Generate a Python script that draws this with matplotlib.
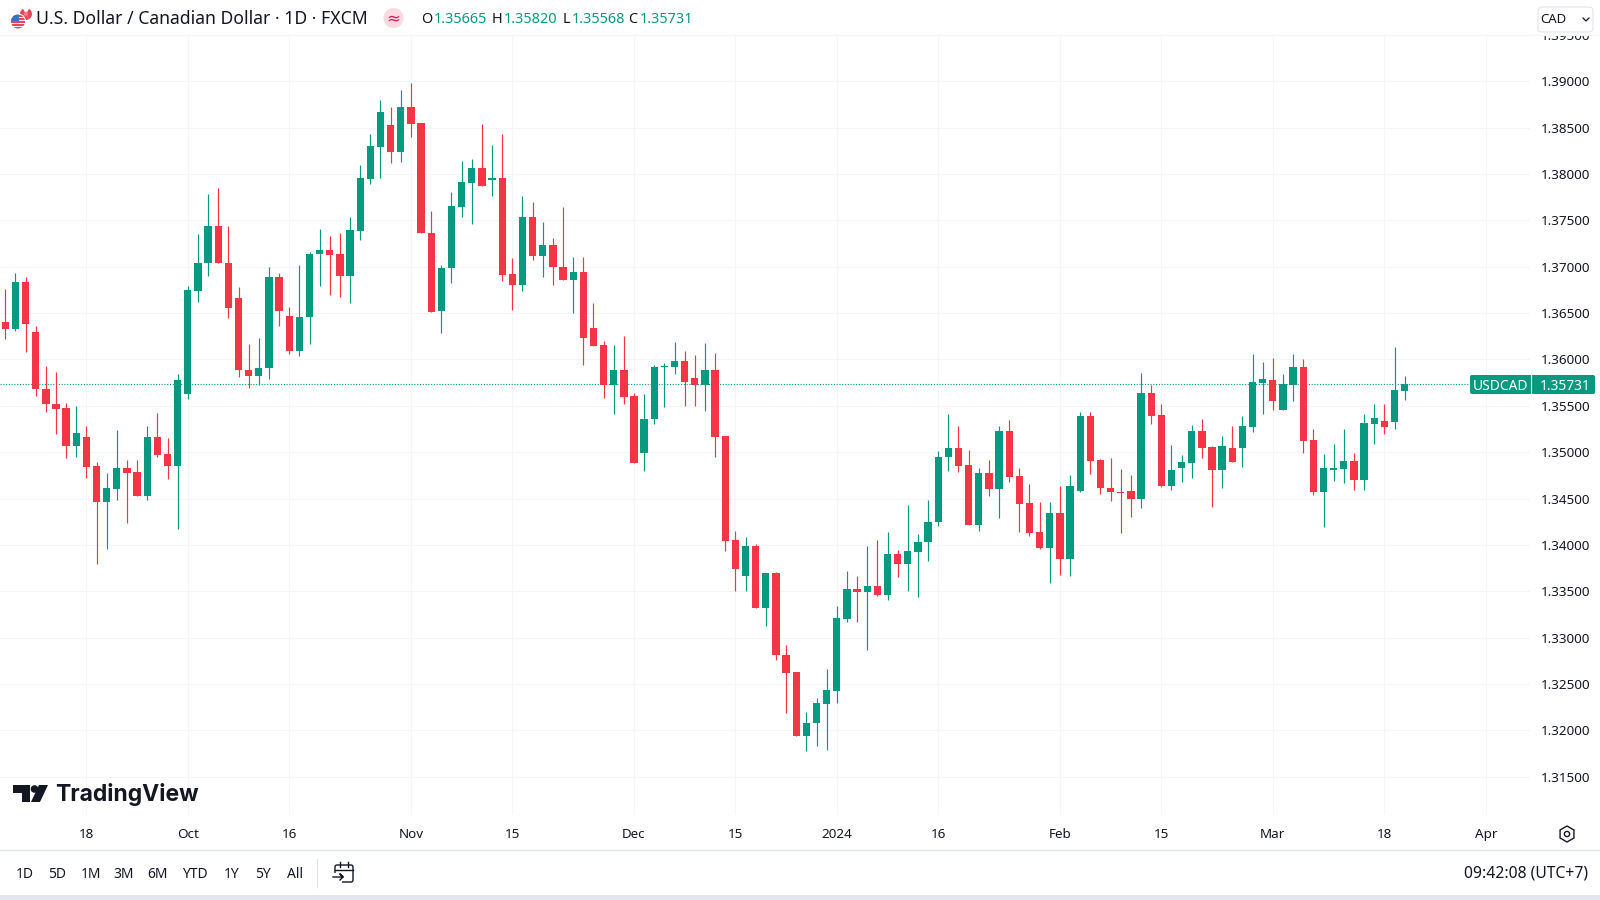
import matplotlib
matplotlib.use("Agg")
import matplotlib.pyplot as plt
from matplotlib.patches import Circle, FancyBboxPatch, Polygon, Rectangle, RegularPolygon, Wedge

directions = ("RGRRRRRGRRGGRRGRRGGG" "GRRRRGGRRGGGRRGGGGRG" "RRRGGGGRGRRGRGRRGRRR"
              "GRRGGGGRRGRRRGRGRRRG" "GGGGRGRGRGGGGGRRGRGR" "RRRGRGGRRRRRGRRGGGRR"
              "GRGGGRGGRRGGGRGGRGG")

highs = [1.36760,1.36935,1.36892,1.36366,1.35925,1.35860,1.35534,1.35495,1.35283,1.34896,
         1.34771,1.35237,1.34914,1.34914,1.35280,1.35427,1.35158,1.35846,1.36796,1.37351,
         1.37788,1.37846,1.37441,1.36785,1.36168,1.36229,1.37000,1.36932,1.36563,1.37021,
         1.37154,1.37405,1.37333,1.37362,1.37538,1.38097,1.38437,1.38803,1.38720,1.38910,
         1.38982,1.38552,1.37602,1.37018,1.37810,1.38140,1.38158,1.38545,1.38312,1.38427,
         1.37093,1.37763,1.37702,1.37487,1.37305,1.37649,1.37100,1.37108,1.36609,1.36204,
         1.36151,1.36258,1.35638,1.35624,1.35935,1.35961,1.36186,1.36090,1.36043,1.36179,
         1.36072,1.35172,1.34151,1.34090,1.34007,1.33695,1.33706,1.32925,1.32631,1.32197,
         1.32351,1.32656,1.33344,1.33720,1.33659,1.33989,1.34054,1.34143,1.33946,1.34430,
         1.34118,1.34484,1.35014,1.35416,1.35280,1.35022,1.34824,1.34914,1.35280,1.35344,
         1.34824,1.34656,1.34459,1.34459,1.34634,1.34753,1.35434,1.35434,1.34921,1.34932,
         1.34814,1.34753,1.35853,1.35720,1.35516,1.35075,1.34968,1.35297,1.35362,1.35068,
         1.35172,1.35280,1.35387,1.36061,1.35971,1.36018,1.35839,1.36054,1.36000,1.35254,
         1.34979,1.35093,1.35254,1.34986,1.35409,1.35516,1.35516,1.36133,1.35820]

body_tops = [1.36401,1.36839,1.36839,1.36301,1.35685,1.35523,1.35477,1.35211,1.35165,1.34849,
             1.34609,1.34824,1.34824,1.34781,1.35165,1.35165,1.34979,1.35774,1.36749,1.37039,
             1.37441,1.37441,1.37036,1.36659,1.35889,1.35907,1.36892,1.36892,1.36473,1.36462,
             1.37143,1.37183,1.37183,1.37136,1.37398,1.37953,1.38301,1.38667,1.38534,1.38720,
             1.38720,1.38552,1.37366,1.36989,1.37656,1.37914,1.38061,1.38061,1.37957,1.37961,
             1.36921,1.37538,1.37538,1.37237,1.37237,1.37000,1.36939,1.36939,1.36337,1.36151,
             1.35882,1.35882,1.35602,1.35362,1.35918,1.35928,1.35978,1.35978,1.35799,1.35882,
             1.35882,1.35172,1.34054,1.33989,1.33989,1.33695,1.33695,1.32817,1.32631,1.32082,
             1.32290,1.32430,1.33211,1.33527,1.33527,1.33552,1.33552,1.33903,1.33903,1.33935,
             1.34032,1.34251,1.34950,1.35050,1.35050,1.34860,1.34778,1.34778,1.35226,1.35226,
             1.34742,1.34448,1.34143,1.34341,1.34341,1.34634,1.35387,1.35387,1.34914,1.34617,
             1.34573,1.34581,1.35642,1.35642,1.35398,1.34806,1.34889,1.35226,1.35226,1.35057,
             1.35065,1.35050,1.35280,1.35756,1.35785,1.35781,1.35731,1.35918,1.35918,1.35129,
             1.34824,1.34824,1.34903,1.34903,1.35315,1.35369,1.35333,1.35667,1.35731]

body_bottoms = [1.36330,1.36330,1.36387,1.35681,1.35516,1.35470,1.35065,1.35065,1.34842,1.34466,
                1.34466,1.34602,1.34771,1.34527,1.34527,1.34968,1.34849,1.34849,1.35624,1.36742,
                1.37036,1.37036,1.36552,1.35882,1.35817,1.35817,1.35903,1.36527,1.36090,1.36090,
                1.36455,1.37140,1.37129,1.36896,1.36896,1.37387,1.37943,1.38294,1.38236,1.38236,
                1.38545,1.37362,1.36516,1.36520,1.36986,1.37649,1.37907,1.37871,1.37939,1.36914,
                1.36806,1.36806,1.37118,1.37118,1.36993,1.36860,1.36860,1.36233,1.36140,1.35720,
                1.35720,1.35595,1.34878,1.34986,1.35355,1.35914,1.35918,1.35756,1.35720,1.35720,
                1.35165,1.34047,1.33742,1.33660,1.33323,1.33323,1.32810,1.32620,1.31939,1.31939,
                1.32075,1.32280,1.32423,1.33204,1.33491,1.33491,1.33462,1.33462,1.33796,1.33796,
                1.33928,1.34029,1.34244,1.34943,1.34849,1.34215,1.34215,1.34602,1.34602,1.34735,
                1.34441,1.34133,1.33964,1.33964,1.33849,1.33849,1.34581,1.34907,1.34613,1.34566,
                1.34563,1.34495,1.34495,1.35391,1.34638,1.34638,1.34824,1.34878,1.35050,1.34806,
                1.34806,1.34896,1.35043,1.35272,1.35749,1.35552,1.35452,1.35720,1.35118,1.34573,
                1.34573,1.34806,1.34817,1.34699,1.34699,1.35308,1.35272,1.35326,1.35665]

lows = [1.36222,1.36305,1.36079,1.35606,1.35434,1.35201,1.34932,1.34943,1.34717,1.33796,
        1.33957,1.34484,1.34233,1.34527,1.34484,1.34950,1.34710,1.34172,1.35570,1.36616,
        1.36896,1.37036,1.36444,1.35810,1.35692,1.35720,1.35789,1.36358,1.36061,1.36036,
        1.36168,1.36788,1.36695,1.36670,1.36609,1.37290,1.37889,1.37960,1.38122,1.38133,
        1.38401,1.37362,1.36516,1.36283,1.36821,1.37541,1.37459,1.37871,1.37763,1.36842,
        1.36538,1.36742,1.37072,1.36885,1.36806,1.36860,1.36502,1.35935,1.36140,1.35588,
        1.35409,1.35516,1.34878,1.34799,1.35301,1.35487,1.35839,1.35495,1.35495,1.35444,
        1.34950,1.33939,1.33505,1.33498,1.33323,1.33122,1.32763,1.32190,1.31939,1.31778,
        1.31832,1.31789,1.32297,1.33168,1.33168,1.32871,1.33444,1.33401,1.33652,1.33505,
        1.33434,1.33821,1.34208,1.34796,1.34789,1.34215,1.34154,1.34530,1.34294,1.34681,
        1.34143,1.34100,1.33957,1.33588,1.33677,1.33660,1.34573,1.34763,1.34548,1.34473,
        1.34125,1.34298,1.34394,1.35308,1.34627,1.34591,1.34681,1.34717,1.34939,1.34405,
        1.34617,1.34896,1.34842,1.35219,1.35409,1.35452,1.35452,1.35548,1.34986,1.34538,
        1.34197,1.34688,1.34663,1.34591,1.34591,1.35093,1.35201,1.35247,1.35568]

x_tick_positions = [8, 18, 28, 40, 50, 62, 72, 82, 92, 104, 114, 125, 136, 146]
x_tick_labels = ["18", "Oct", "16", "Nov", "15", "Dec", "15", "2024", "16", "Feb", "15", "Mar", "18", "Apr"]
price_ticks = [1.315, 1.32, 1.325, 1.33, 1.335, 1.34, 1.345, 1.35, 1.355, 1.36, 1.365, 1.37, 1.375, 1.38, 1.385, 1.39, 1.395]
last_price = 1.35731
range_buttons = ["1D", "5D", "1M", "3M", "6M", "YTD", "1Y", "5Y", "All"]
button_centres = [25, 57, 91, 124, 157, 195, 232, 263, 295]

GREEN, RED = "#089981", "#F23645"
GRID, TEXT, LINE = "#F4F5F8", "#131722", "#E0E3EB"
FONT = "Noto Sans"

fig = plt.figure(figsize=(16, 9), dpi=100, facecolor="white")
ax = fig.add_axes([0, 1 - 815 / 900, 1530 / 1600, 780 / 900])
ax.set_xlim(-0.523, 150.36)
ax.set_ylim(1.31086, 1.39473)
for s in ax.spines.values():
    s.set_visible(False)
ax.set_axisbelow(True)
ax.grid(True, color=GRID, lw=0.8)
ax.set_xticks(x_tick_positions)
ax.set_xticklabels(x_tick_labels, fontsize=9.7, color=TEXT, family=FONT)
ax.get_xticklabels()[7].set_fontweight("bold")
ax.set_yticks(price_ticks)
ax.set_yticklabels([f"{p:.5f}" for p in price_ticks], fontsize=9.7, color=TEXT, family=FONT)
ax.yaxis.tick_right()
ax.tick_params(axis="both", length=0)
ax.tick_params(axis="y", pad=8)
ax.tick_params(axis="x", pad=9.5)

idx = list(range(len(highs)))
colors = [GREEN if d == "G" else RED for d in directions]
ax.axhline(last_price, color=GREEN, lw=0.8, ls=(0, (1, 1.5)), zorder=1)
ax.vlines(idx, lows, highs, colors=colors, lw=0.85, zorder=2)
ax.bar(idx, [t - b for t, b in zip(body_tops, body_bottoms)], bottom=body_bottoms,
       width=0.72, color=colors, lw=0, zorder=3)

# interface chrome, drawn in pixel space
ui = fig.add_axes([0, 0, 1, 1], zorder=5)
ui.set_xlim(0, 1600)
ui.set_ylim(900, 0)
ui.axis("off")
ui.patch.set_alpha(0)

ui.add_patch(Rectangle((0, 0), 1600, 35, fc="white", ec="none"))
ui.plot([0, 1600], [34.5, 34.5], color=GRID, lw=0.8)
ui.plot([0, 1600], [850, 850], color=LINE, lw=1)
ui.add_patch(Rectangle((0, 895), 1600, 5, fc="#E3E6EF", ec="none"))

# flag icon: Canadian disc behind a US disc
ui.add_patch(Circle((26, 14), 6, fc="white", ec="none"))
ui.add_patch(Wedge((26, 14), 6, 240, 300, fc="none", ec="none"))
ui.add_patch(Wedge((26, 14), 6, 60, 150, fc="#E8455A", ec="none"))
ui.add_patch(Wedge((26, 14), 6, 150, 240, fc="#E8455A", ec="none"))
ui.add_patch(Wedge((26, 14), 6, 300, 420, fc="#E8455A", ec="none"))
ui.add_patch(Circle((26, 14), 2.2, fc="#F27A88", ec="none"))
ui.add_patch(Circle((18, 21.5), 8, fc="white", ec="none"))
us = Circle((18, 21.5), 7, fc="#F4F4F6", ec="none")
ui.add_patch(us)
for stripe_y in [15, 18, 21, 24, 27]:
    r = Rectangle((10, stripe_y), 16, 1.5, fc="#E8455A", ec="none")
    ui.add_patch(r)
    r.set_clip_path(us)
canton = Rectangle((10, 14), 8.5, 7, fc="#3A6FC4", ec="none")
ui.add_patch(canton)
canton.set_clip_path(us)

ui.text(36, 19.5, "U.S. Dollar / Canadian Dollar · 1D · FXCM", fontsize=12.7, color=TEXT, family=FONT, va="center", ha="left")
ui.add_patch(Circle((393.5, 18), 10, fc="#FBD9E0", ec="none"))
ui.text(393.5, 18, "≈", fontsize=12, color="#D81B60", family="DejaVu Sans", ha="center", va="center")

for x, letter in [(427, "O"), (497, "H"), (566, "L"), (633, "C")]:
    ui.text(x, 19.5, letter, fontsize=10.4, color=TEXT, family=FONT, ha="center", va="center")
for x, value in [(434, "1.35665"), (504, "1.35820"), (572, "1.35568"), (640, "1.35731")]:
    ui.text(x, 19.5, value, fontsize=10.4, color=GREEN, family=FONT, ha="left", va="center")

# currency selector
ui.add_patch(FancyBboxPatch((1538, 7), 55, 25, boxstyle="round,pad=0,rounding_size=4", fc="white", ec=LINE, lw=0.8))
ui.text(1540, 19.5, "CAD", fontsize=9.5, color=TEXT, family=FONT, ha="left", va="center")
ui.plot([1583, 1586, 1589], [18, 21, 18], color=TEXT, lw=0.9)

# last price tag
ui.add_patch(FancyBboxPatch((1470, 375), 125, 19, boxstyle="round,pad=0,rounding_size=2", fc=GREEN, ec="none"))
ui.plot([1530.5, 1530.5], [375, 394], color="white", lw=0.8)
ui.text(1500.5, 386, "USDCAD", fontsize=9.9, color="white", family=FONT, fontweight="medium", ha="center", va="center")
ui.text(1565.5, 386, "1.35731", fontsize=9.9, color="white", family=FONT, fontweight="medium", ha="center", va="center")

# TradingView logo
ui.add_patch(Polygon([(13, 785), (30, 785), (30, 802), (22, 802), (22, 793), (13, 793)], fc=TEXT, ec="none"))
ui.add_patch(Circle((34.5, 789), 3.8, fc=TEXT, ec="none"))
ui.add_patch(Polygon([(39, 785), (48, 785), (40, 802), (31, 802)], fc=TEXT, ec="none"))
ui.text(55, 794, "TradingView", fontsize=16.5, color=TEXT, family="Inter", fontweight="bold", ha="left", va="center")

# gear
ui.add_patch(RegularPolygon((1567, 834), 6, radius=8, fc="none", ec=TEXT, lw=1))
ui.add_patch(Circle((1567, 834), 2.6, fc="none", ec=TEXT, lw=1))

# bottom bar
for x, label in zip(button_centres, range_buttons):
    ui.text(x, 874, label, fontsize=10, color=TEXT, family=FONT, ha="center", va="center")
ui.plot([316.5, 316.5], [859, 887], color=LINE, lw=0.8)
ui.add_patch(FancyBboxPatch((335, 865), 18, 17, boxstyle="round,pad=0,rounding_size=2", fc="white", ec=TEXT, lw=1))
ui.add_patch(Rectangle((331, 873), 11, 10, fc="white", ec="none"))
ui.plot([335, 353], [869.5, 869.5], color=TEXT, lw=1)
ui.plot([340, 340], [862, 867], color=TEXT, lw=1)
ui.plot([348, 348], [862, 867], color=TEXT, lw=1)
ui.plot([333, 343, 340, 343, 340], [877, 877, 874, 877, 880], color=TEXT, lw=1)
ui.text(1588, 874, "09:42:08 (UTC+7)", fontsize=11.3, color=TEXT, family=FONT, ha="right", va="center")

fig.savefig("out.png", dpi=100)
